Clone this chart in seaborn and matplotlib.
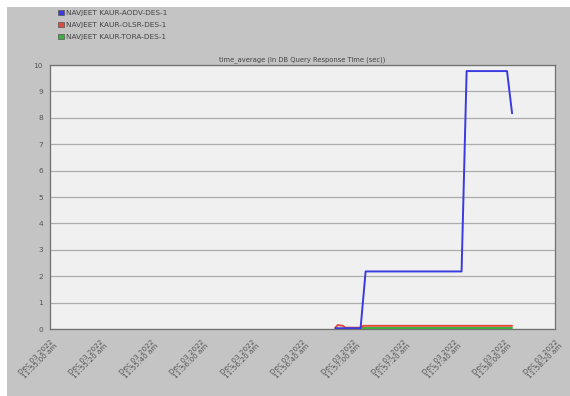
import matplotlib
matplotlib.use("Agg")
import matplotlib.pyplot as plt
from matplotlib.patches import Patch, Rectangle
import seaborn as sns
import pandas as pd

# Series: seconds after 11:55:00 am and DB query response time (sec)
aodv_t = [113, 123, 125, 163, 165, 181, 183]
aodv_v = [0.03, 0.03, 2.18, 2.18, 9.77, 9.77, 8.17]
olsr_t = [113, 114, 116, 117, 123, 124, 183]
olsr_v = [0.05, 0.15, 0.12, 0.05, 0.05, 0.12, 0.12]
tora_t = [123, 183]
tora_v = [0.03, 0.03]

series_names = ["NAVJEET KAUR-AODV-DES-1", "NAVJEET KAUR-OLSR-DES-1", "NAVJEET KAUR-TORA-DES-1"]
series_colors = ["#3a3ae0", "#e04a3a", "#3ab03a"]

tick_secs = [0, 20, 40, 60, 80, 100, 120, 140, 160, 180, 200]
tick_labels = ["Dec 03 2022\n11:55:00 am", "Dec 03 2022\n11:55:20 am", "Dec 03 2022\n11:55:40 am",
               "Dec 03 2022\n11:56:00 am", "Dec 03 2022\n11:56:20 am", "Dec 03 2022\n11:56:40 am",
               "Dec 03 2022\n11:57:00 am", "Dec 03 2022\n11:57:20 am", "Dec 03 2022\n11:57:40 am",
               "Dec 03 2022\n11:58:00 am", "Dec 03 2022\n11:58:20 am"]
y_ticks = list(range(0, 11))

frames = []
for name, t, v in zip(series_names, [aodv_t, olsr_t, tora_t], [aodv_v, olsr_v, tora_v]):
    frames.append(pd.DataFrame({"t": t, "v": v, "series": name}))
df = pd.concat(frames, ignore_index=True)

sns.set_style("white")
plt.rcParams["font.family"] = ["DejaVu Sans"]

W, H = 570, 396
fig = plt.figure(figsize=(W / 100, H / 100), dpi=100, facecolor="white")
# gray panel behind everything, leaving a thin white margin top and left
fig.patches.append(Rectangle((7 / W, 0), 1, 1 - 7 / H, transform=fig.transFigure,
                             facecolor="#c4c4c4", edgecolor="none", zorder=-10))

ax = fig.add_axes([50 / W, 1 - 329 / H, 505 / W, 264 / H])
ax.set_zorder(1)
ax.set_facecolor("#f0f0f0")

# draw order: TORA, OLSR, then AODV on top
for name, color in zip(series_names[::-1], series_colors[::-1]):
    sub = df[df["series"] == name]
    sns.lineplot(data=sub, x="t", y="v", ax=ax, color=color, lw=1.4,
                 estimator=None, sort=False, legend=False, zorder=3)

ax.set_xlim(0, 200)
ax.set_ylim(0, 10)
ax.set_yticks(y_ticks)
ax.set_yticklabels([str(y) for y in y_ticks], fontsize=5.3, color="#555555")
ax.set_xticks(tick_secs)
ax.set_xticklabels(tick_labels, fontsize=5.2, color="#555555", rotation=45,
                   ha="right", va="top", rotation_mode="anchor", linespacing=1.0)
ax.tick_params(axis="y", direction="out", length=2.5, width=0.6, color="#777777", pad=2.5)
ax.tick_params(axis="x", direction="in", length=2, width=0.6, color="#777777", pad=7)
ax.set_xlabel("")
ax.set_ylabel("")

ax.grid(axis="y", color="#acacac", lw=0.9)
ax.grid(axis="x", visible=False)
ax.set_axisbelow(True)
for side, sp in ax.spines.items():
    sp.set_visible(True)
    sp.set_color("#707070")
    sp.set_linewidth(0.9)

ax.set_title("time_average (in DB Query Response Time (sec))", fontsize=4.9,
             color="#444444", pad=3)

handles = [Patch(facecolor=c, edgecolor="#555555", lw=0.5) for c in series_colors]
leg = fig.legend(handles, series_names, loc="upper left", bbox_to_anchor=(58 / W, 1 - 10 / H),
                 frameon=False, fontsize=5.3, handlelength=0.75, handleheight=0.75,
                 handletextpad=0.3, labelspacing=0.75, borderaxespad=0, borderpad=0,
                 labelcolor="#444444")
leg.set_zorder(2)

fig.savefig("out.png", dpi=100, facecolor="white")
